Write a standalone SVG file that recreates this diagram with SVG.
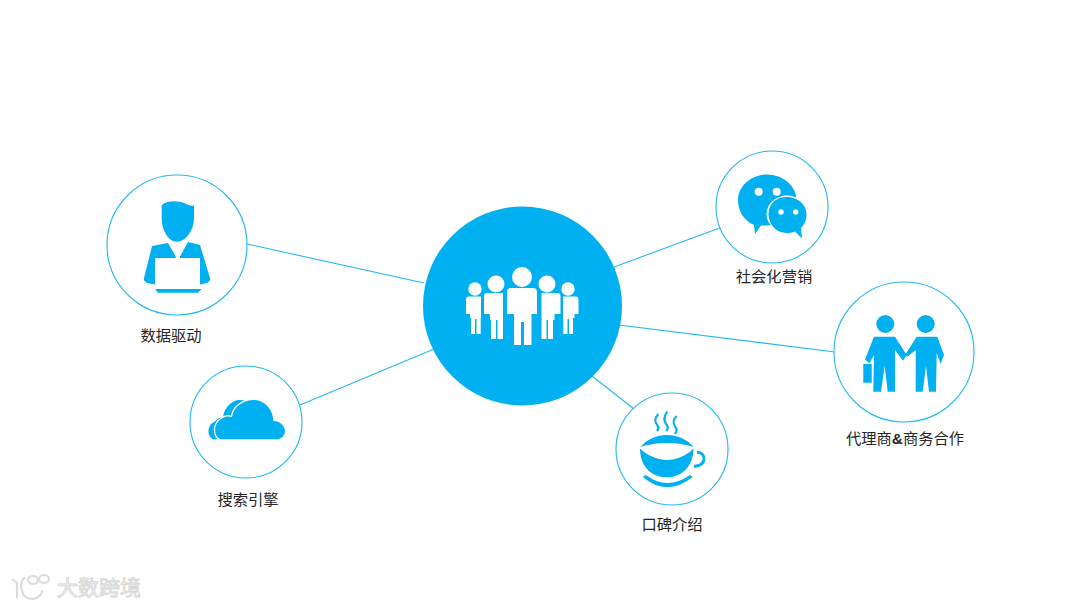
<svg xmlns="http://www.w3.org/2000/svg" width="1080" height="608" viewBox="0 0 1080 608">
<style>
.ring{fill:#fff;stroke:#22b8f0;stroke-width:1.1}
.ic{fill:#00b0f0}
.wh{fill:#fff}
.lab{font-family:"Noto Sans CJK SC","Noto Sans CJK JP",sans-serif;font-size:15.3px;fill:#262626;text-anchor:middle}
#connectors line{stroke:#22b8f0;stroke-width:1.1}
</style>
<rect width="1080" height="608" fill="#fff"/>
<g id="connectors">
<line x1="247" y1="244" x2="424" y2="283"/>
<line x1="300" y1="405" x2="434" y2="349"/>
<line x1="614" y1="267" x2="725" y2="226"/>
<line x1="619" y1="325" x2="835" y2="352"/>
<line x1="592" y1="376" x2="634" y2="409"/>
</g>
<g id="center">
<circle cx="522.500" cy="306" r="99.500" class="ic"/>
<g class="wh">
<circle cx="475" cy="289" r="6.700"/>
<path d="M466 299Q466 296.500 469 296.500H481V318H480.700V334H476.500V319H475V334H471V318H470V314H466Z"/>
<circle cx="568" cy="289" r="6.700"/>
<path d="M578.500 299Q578.500 296.500 575.500 296.500H563V318H563.300V334H567.500V319H569V334H573V318H574.500V314H578.500Z"/>
<circle cx="496" cy="284" r="8.500"/>
<path d="M484 296Q484 293 487 293H503V339H497.500V320H496V339H491V320H490V314H484Z"/>
<circle cx="547" cy="284" r="8.500"/>
<path d="M560.500 296Q560.500 293 557.500 293H541V339H546.500V320H548V339H553V320H554.500V314H560.500Z"/>
<path d="M503.500 293H541.500V342H503.500Z" fill="#00b0f0"/>
<circle cx="522" cy="277" r="10"/>
<path d="M507 292Q507 288 511 288H533Q537 288 537 292V314H531.500V345H524V322H521V345H514V314H507Z"/>
</g>
</g>
<g id="data-driven">
<circle cx="177" cy="245" r="70" class="ring"/>
<path class="ic" d="M161.700 205C168 200 178 201 184 203C188 205 191 206 194 205.700V218C194 230 186 241.700 177 241.700C168 241.700 161.700 230 161.700 218Z"/>
<path class="ic" d="M152 246L168 243L175.700 256.500V258H155V284.500L147 283Q143 281 144 278ZM200 245L188 242L180 256.500V258H200V284.500L207 283Q211 281 210 278L200 245Z"/>
<path class="ic" d="M155 289H201.700L198 292.700H158Z"/>
</g>
<g id="search">
<circle cx="246" cy="422" r="56" class="ring"/>
<path class="ic" d="M218 439.300H214C207 438 206 425 215 421.500C217 418 220 417 223 417.500C224 407 233 400 239 400C244 400 247 401 250 403V439Z"/>
<path class="ic" stroke="#fff" stroke-width="2.500" d="M221 439.300C213 437 213 423 222 418.500C225 416 229 416 232 417C233 407 243 400 254 400C265 400 273 410 273.500 421C280 421 285 426 285 431C285 436 281 439.300 276 439.300Z"/>
<path class="ic" d="M221 439.300C213 437 213 423 222 418.500C225 416 229 416 232 417C233 407 243 400 254 400C265 400 273 410 273.500 421C280 421 285 426 285 431C285 436 281 439.300 276 439.300Z"/>
</g>
<g id="social">
<circle cx="772" cy="207" r="56" class="ring"/>
<path class="ic" d="M755 234L754 225C743 220 738 210 738 200C738 186 751 174.500 767 174.500C783 174.500 796.500 186 796.500 200C796.500 214 783 225.500 767 225.500C764 225.500 762 225.500 761 225.500Z"/>
<ellipse cx="787" cy="214" rx="20.500" ry="18.500" fill="#fff"/>
<path class="ic" d="M802 238.500L795 231.500C792 232.500 789.500 233 786.700 233C776 233 768.500 224 768.500 214C768.500 204 776 197 786.700 197C797 197 806.500 204 806.500 214C806.500 221 804 225 801 228Z"/>
<circle cx="758.700" cy="191.700" r="4" class="wh"/>
<circle cx="776.700" cy="191.700" r="4" class="wh"/>
<circle cx="781" cy="212" r="2.700" class="wh"/>
<circle cx="795.700" cy="212" r="2.700" class="wh"/>
</g>
<g id="agent">
<circle cx="904" cy="352" r="70" class="ring"/>
<circle cx="885.300" cy="324" r="9" class="ic"/>
<circle cx="925.700" cy="324" r="9" class="ic"/>
<path class="ic" d="M874 336.700H895L906.700 355L903 360.700L895 350V391.700H887.700L884.700 366L881 391.700H873.300L874 355L869.300 363.300L865 359.300Z"/>
<path class="ic" d="M916.700 336.700H937.300L944 355L940.700 364L936.700 353L936 391.700H929L926 366L922.700 391.700H915.700V350L907.300 356.700L905 355Z"/>
<rect x="863.300" y="364" width="8.400" height="18.700" class="ic"/>
</g>
<g id="coffee">
<circle cx="672" cy="449" r="56" class="ring"/>
<path class="ic" d="M640.500 447C647 439 657 435 667 435C677 435 687 439 693.500 447C686 444.500 676 443 667 443C658 443 648 444.500 640.500 447Z"/>
<path class="ic" d="M640 448.500C648 456 658 460 667 460C676 460 686 456 693.500 448.500C693.500 465 683 477.300 667 477.300C650 477.300 640 465 640 448.500Z"/>
<path d="M697 452.500C702 452 704.500 456 704 459.500C703.500 464 699 466 694 466.500" fill="none" stroke="#00b0f0" stroke-width="2.800"/>
<path class="ic" d="M642.700 477L646 475Q667 491 690 475L692.700 477Q667 497.500 642.700 477Z"/>
<g fill="none" stroke="#00b0f0" stroke-width="2.200">
<path d="M658.300 414C654 419 654.500 422 657.500 425.500C659.500 428 658.500 429.500 657 431"/>
<path d="M667.300 411.700C663.500 417 663.500 421 666.500 424.500C668.500 427 668 429 666.300 431"/>
<path d="M676.700 416C672.500 420 672.500 423 675.500 427C677.500 429.500 676.500 432 675 434"/>
</g>
</g>
<text class="lab" x="171" y="341">数据驱动</text>
<text class="lab" x="248" y="505">搜索引擎</text>
<text class="lab" x="774" y="282">社会化营销</text>
<text class="lab" x="905" y="444">代理商<tspan font-family="'Liberation Sans',sans-serif" font-weight="700">&amp;</tspan>商务合作</text>
<text class="lab" x="672" y="530">口碑介绍</text>
<g id="watermark">
<g fill="none" stroke="#dcdcdc" stroke-width="2.200">
<path d="M12 579L17 583V598"/>
<path d="M25 577C19 582 20 598 31 599C38 599 42 595 42 590"/>
<ellipse cx="33" cy="580" rx="5" ry="4"/>
<ellipse cx="44" cy="579" rx="5" ry="4"/>
</g>
<text x="57" y="595" font-family="'Noto Sans CJK SC',sans-serif" font-size="21" fill="#fff" stroke="#d8d8d8" stroke-width="1" textLength="84">大数跨境</text>
</g>
</svg>
